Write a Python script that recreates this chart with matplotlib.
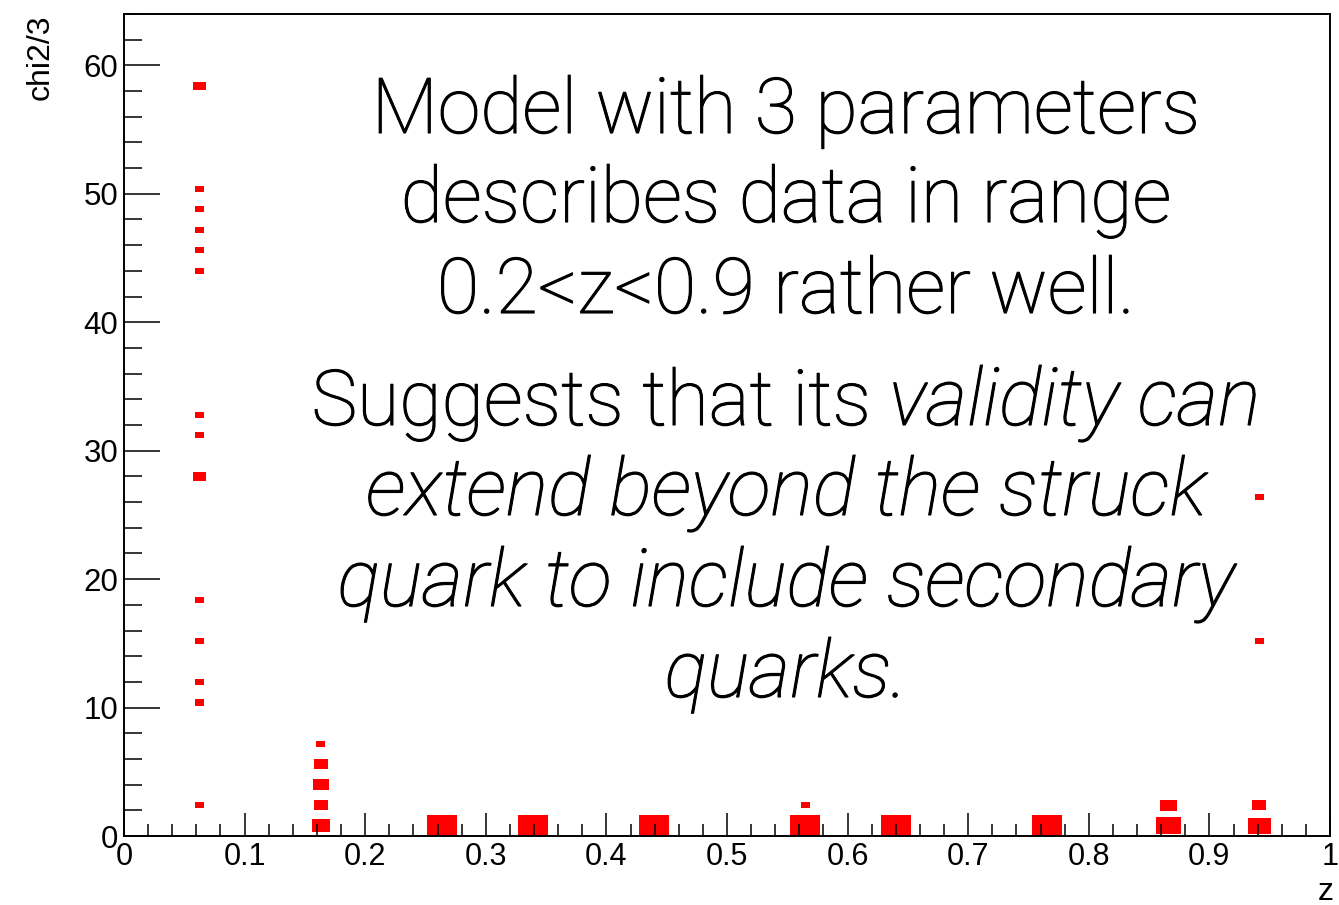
import matplotlib
matplotlib.use("Agg")
import matplotlib.pyplot as plt
import matplotlib.patheffects as pe
from matplotlib.ticker import MultipleLocator, FixedLocator
import numpy as np

# ---------------- data (2D histogram cells drawn as boxes) ----------------
bin_dx = 0.0251
bin_dy = 1.6
cell_x = [0.0628]*14 + [0.1632]*5 + [0.2636, 0.3389, 0.4393, 0.5648, 0.5648,
          0.6401, 0.7656, 0.8660, 0.8660, 0.9413, 0.9413, 0.9413, 0.9413]
cell_y = [58.4, 50.4, 48.8, 47.2, 45.6, 44.0, 32.8, 31.2, 28.0, 18.4, 15.2, 12.0, 10.4, 2.4,
          7.2, 5.6, 4.0, 2.4, 0.8,
          0.8, 0.8, 0.8, 0.8, 2.4,
          0.8, 0.8, 0.8, 2.4, 0.8, 2.4, 15.2, 26.4]
cell_content = [0.42, 0.30, 0.30, 0.30, 0.30, 0.30, 0.30, 0.30, 0.42, 0.30, 0.30, 0.30, 0.30, 0.30,
                0.29, 0.475, 0.54, 0.475, 0.61,
                1.0, 1.0, 1.0, 1.0, 0.29,
                1.0, 1.0, 0.84, 0.55, 0.77, 0.475, 0.30, 0.30]

x_ticks = [0, 0.1, 0.2, 0.3, 0.4, 0.5, 0.6, 0.7, 0.8, 0.9, 1.0]
x_tick_labels = ["0", "0.1", "0.2", "0.3", "0.4", "0.5", "0.6", "0.7", "0.8", "0.9", "1"]
y_ticks = [0, 10, 20, 30, 40, 50, 60]
y_tick_labels = ["0", "10", "20", "30", "40", "50", "60"]

para1 = [[("Model with 3 parameters", "normal")],
         [("describes data in range", "normal")],
         [("0.2<z<0.9 rather well.", "normal")]]
para2 = [[("Suggests that its ", "normal"), ("validity can", "italic")],
         [("extend beyond the struck", "italic")],
         [("quark to include secondary", "italic")],
         [("quarks.", "italic")]]

# ---------------- figure ----------------
W, H = 1339, 905
fig = plt.figure(figsize=(W/100, H/100), dpi=100)
ax = fig.add_axes([124/W, 1 - 836/H, (1330-124)/W, (836-14)/H])
ax.set_xlim(0, 1)
ax.set_ylim(0, 64)

cx = np.array(cell_x); cy = np.array(cell_y); cc = np.array(cell_content)
frac = cc / cc.max()
ax.bar(cx, frac*bin_dy, width=frac*bin_dx, bottom=cy - frac*bin_dy/2,
       color="#ff0000", edgecolor="none", linewidth=0)

for s in ax.spines.values():
    s.set_linewidth(1.4)
    s.set_color("black")

ax.xaxis.set_major_locator(FixedLocator(x_ticks))
ax.set_xticklabels(x_tick_labels)
ax.xaxis.set_minor_locator(MultipleLocator(0.02))
ax.yaxis.set_major_locator(FixedLocator(y_ticks))
ax.set_yticklabels(y_tick_labels)
ax.yaxis.set_minor_locator(MultipleLocator(2))

tick_font = "Liberation Sans"
ax.tick_params(axis="x", which="major", direction="in", length=16.5, width=1.1,
               labelsize=22, pad=4, top=False)
ax.tick_params(axis="x", which="minor", direction="in", length=8.6, width=1.1, top=False)
ax.tick_params(axis="y", which="major", direction="in", length=26, width=1.1,
               labelsize=22.5, pad=4, right=False)
ax.tick_params(axis="y", which="minor", direction="in", length=13, width=1.1, right=False)
for lab in ax.get_xticklabels() + ax.get_yticklabels():
    lab.set_fontfamily(tick_font)

fig.text(41/W, 1 - 14/H, "chi2/3", rotation=90, ha="center", va="top",
         fontsize=23, family=tick_font)
fig.text(1334/W, 1 - 900/H, "z", ha="right", va="baseline",
         fontsize=23, family=tick_font)

# ---------------- overlay text ----------------
text_font = "Roboto"
fs_normal = 55.5
fs_italic = 57.5
center_px = 786
baselines = [133, 222, 313, 425, 515, 606, 697]
lines = para1 + para2
effects = [pe.withStroke(linewidth=0.8, foreground="black")]

fig.canvas.draw()
renderer = fig.canvas.get_renderer()
for line, base in zip(lines, baselines):
    objs = []
    for seg, style in line:
        t = fig.text(0, 1 - base/H, seg, fontsize=fs_italic if style == "italic" else fs_normal,
                     family=text_font, style=style, fontweight="light",
                     ha="left", va="baseline", path_effects=effects)
        objs.append(t)
    widths = [t.get_window_extent(renderer).width for t in objs]
    total = sum(widths)
    x0 = center_px - total/2
    for t, w in zip(objs, widths):
        t.set_x(x0/W)
        x0 += w

fig.savefig("out.png", dpi=100)
